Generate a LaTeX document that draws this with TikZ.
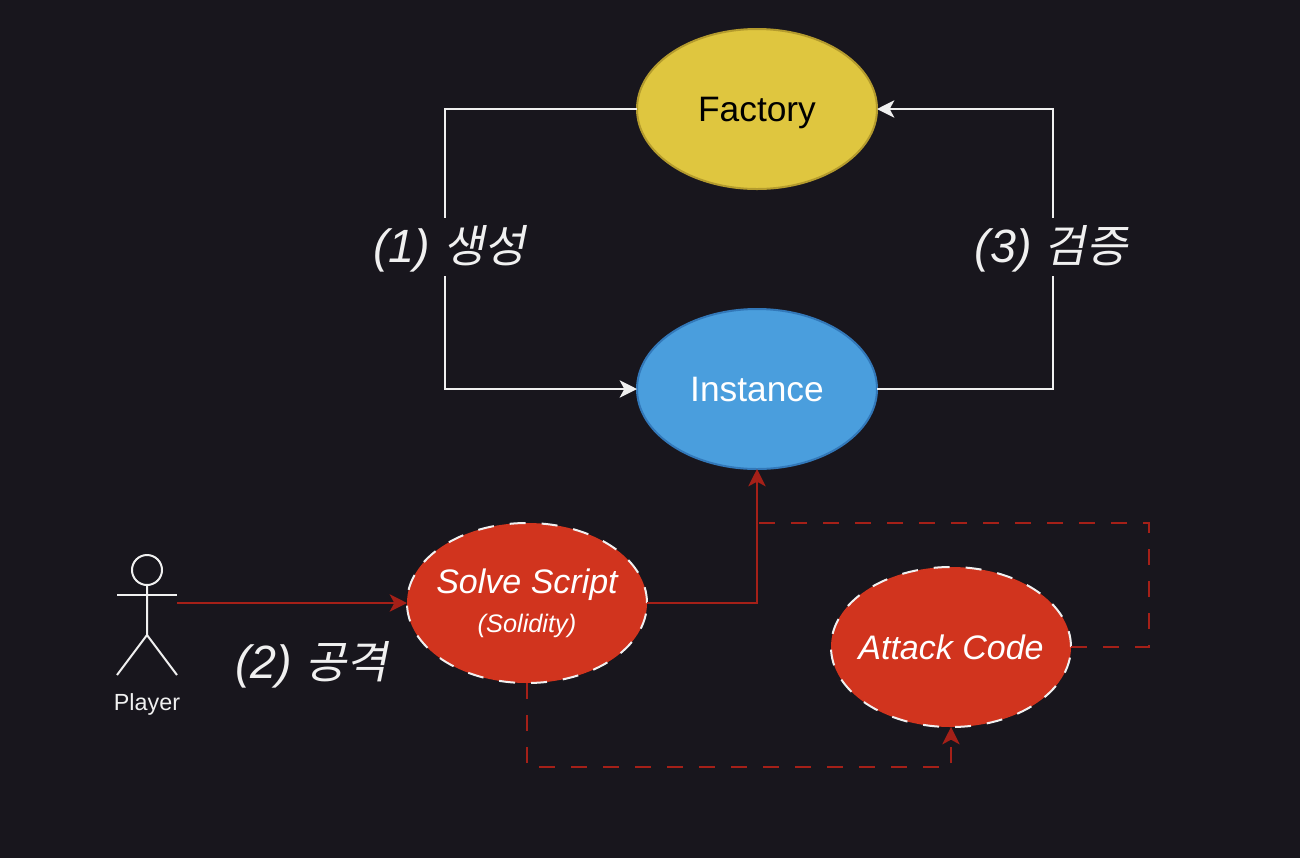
\documentclass[tikz,border=0pt]{standalone}
\usepackage{fontspec}
\setmainfont{Liberation Sans}
\newfontfamily\krfont[FakeSlant=0.2,Scale=0.96]{Noto Sans CJK KR}
\usetikzlibrary{positioning,shapes.geometric,arrows.meta}
\definecolor{bgdark}{RGB}{24,22,29}
\definecolor{factoryfill}{RGB}{223,198,63}
\definecolor{factoryline}{RGB}{180,155,45}
\definecolor{instancefill}{RGB}{74,158,221}
\definecolor{instanceline}{RGB}{50,120,185}
\definecolor{attackfill}{RGB}{209,52,30}
\definecolor{attackline}{RGB}{165,32,24}
\definecolor{softwhite}{RGB}{240,240,240}
\newcommand{\squeezed}[1]{\makebox[0pt]{#1}}
\tikzstyle{big_ellipse} = [ellipse,
						  draw,
						  line width=1.5pt,
						  minimum width=180pt,
						  minimum height=120pt,
						  inner sep=0pt,
						  outer sep=0pt,
						  align=center]
\tikzstyle{contract} = [big_ellipse,
						  text depth=0pt,
						  font=\fontsize{26.5}{32}\selectfont]
\tikzstyle{script} = [big_ellipse,
						  fill=attackfill,
						  draw=softwhite,
						  dash pattern=on 12pt off 12pt,
						  text=white,
						  font=\fontsize{25.5}{30}\selectfont\itshape]
\tikzstyle{step_label} = [fill=bgdark,
						  text=softwhite,
						  inner sep=0pt,
						  text height=30pt,
						  text depth=6pt,
						  minimum height=43.5pt,
						  font=\fontsize{35}{41}\selectfont\itshape]
\tikzstyle{white_wire} = [draw=softwhite,
						  line width=1.5pt,
						  -{Stealth[length=13pt,width=13pt,inset=3.5pt]}]
\tikzstyle{red_wire} = [draw=attackline,
						  line width=1.5pt,
						  -{Stealth[length=13pt,width=13pt,inset=3.5pt]}]
\begin{document}
\begin{tikzpicture}[x=0.75pt,y=-0.75pt]
	\fill[bgdark] (0,0) rectangle (1300,858);
	\useasboundingbox (0,0) rectangle (1300,858);

	%%%%%%%%%%%%
	% ELLIPSES %
	%%%%%%%%%%%%
	\node[contract, fill=factoryfill, draw=factoryline] (factory) at (757,109) {Factory};
	\node[contract, fill=instancefill, draw=instanceline, text=white, below=90pt of factory] (instance) {Instance};
	\node[script, below=40.5pt of instance, xshift=-172.5pt] (solve) {\squeezed{Solve Script}\\[-0.5pt]\squeezed{\fontsize{19}{23}\selectfont (Solidity)}};
	\node[script, right=138pt of solve, yshift=-33pt] (attack) {\squeezed{Attack Code}};

	%%%%%%%%%
	% ACTOR %
	%%%%%%%%%
	\node[circle, draw=softwhite, line width=1.5pt, minimum size=22.5pt, inner sep=0pt, outer sep=0pt] (head) at (147,570) {};
	\draw[softwhite, line width=1.5pt] (head.south) -- ++(0,50) coordinate (hip) -- ++(-30,40);
	\draw[softwhite, line width=1.5pt] (hip) -- ++(30,40) coordinate (foot);
	\draw[softwhite, line width=1.5pt] (117,595) -- (177,595) coordinate (hand);
	\node[below=40.75pt of hip, text=softwhite, font=\fontsize{17.5}{21}\selectfont] (player) {Player};

	%%%%%%%%%
	% WIRES %
	%%%%%%%%%
	\draw[white_wire] (factory.west) -- ++(-192,0) |- (instance.west)
		node[step_label, pos=0.246, xshift=3.4pt] (create) {(1) {\krfont 생성}};
	\draw[white_wire] (instance.east) -- ++(176,0) |- (factory.east)
		node[step_label, pos=0.254, xshift=-1.5pt] (check) {(3) {\krfont 검증}};

	\draw[red_wire] ([yshift=-6pt]hand) -- (solve.west);
	\draw[red_wire] (solve.east) -| (instance.south);
	\draw[red_wire, dash pattern=on 12pt off 12pt] (solve.south) -- ++(0,84) -| (attack.south);
	\draw[draw=attackline, line width=1.5pt, dash pattern=on 12pt off 12pt] (attack.east) -- ++(78,0) |- (757,523) coordinate (join);
	\node[step_label, fill=none] (attacklabel) at (311.5,662) {(2) {\krfont 공격}};
\end{tikzpicture}
\end{document}
